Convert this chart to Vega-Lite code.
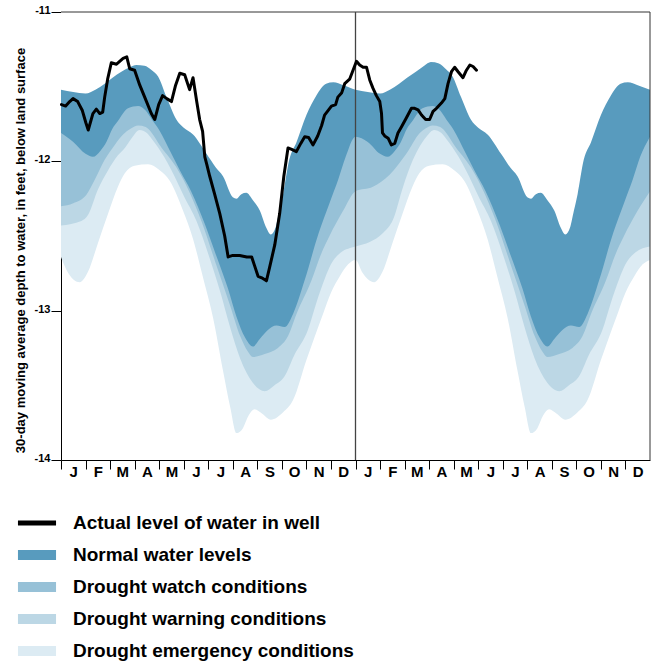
{
  "$schema": "https://vega.github.io/schema/vega-lite/v6.json",
  "width": 589,
  "height": 448,
  "autosize": {"type": "none"},
  "padding": {"left": 61, "top": 12, "right": 1, "bottom": 202},
  "background": "white",
  "config": {
    "view": {"stroke": null},
    "font": "Liberation Sans",
    "axis": {
      "labelFont": "Liberation Sans",
      "labelFontWeight": "bold",
      "labelColor": "black",
      "titleFont": "Liberation Sans",
      "titleFontWeight": "bold",
      "titleColor": "black",
      "domainColor": "black",
      "domainWidth": 1,
      "tickColor": "black",
      "tickWidth": 1,
      "grid": false,
      "zindex": 1
    }
  },
  "datasets": {
    "bands": [
      {"edge": "emergency_lower", "m": 0, "v": -12.64},
      {"edge": "emergency_lower", "m": 0.3, "v": -12.75},
      {"edge": "emergency_lower", "m": 0.76, "v": -12.81},
      {"edge": "emergency_lower", "m": 1.1, "v": -12.74},
      {"edge": "emergency_lower", "m": 1.5, "v": -12.55},
      {"edge": "emergency_lower", "m": 1.92, "v": -12.35},
      {"edge": "emergency_lower", "m": 2.32, "v": -12.17},
      {"edge": "emergency_lower", "m": 2.6, "v": -12.08},
      {"edge": "emergency_lower", "m": 3.0, "v": -12.03},
      {"edge": "emergency_lower", "m": 3.55, "v": -12.02},
      {"edge": "emergency_lower", "m": 4.02, "v": -12.06},
      {"edge": "emergency_lower", "m": 4.43, "v": -12.13},
      {"edge": "emergency_lower", "m": 4.97, "v": -12.33},
      {"edge": "emergency_lower", "m": 5.38, "v": -12.52},
      {"edge": "emergency_lower", "m": 5.79, "v": -12.78},
      {"edge": "emergency_lower", "m": 6.2, "v": -13.05},
      {"edge": "emergency_lower", "m": 6.6, "v": -13.4},
      {"edge": "emergency_lower", "m": 6.9, "v": -13.65},
      {"edge": "emergency_lower", "m": 7.15, "v": -13.82},
      {"edge": "emergency_lower", "m": 7.4, "v": -13.79},
      {"edge": "emergency_lower", "m": 7.65, "v": -13.7},
      {"edge": "emergency_lower", "m": 7.89, "v": -13.66},
      {"edge": "emergency_lower", "m": 8.2, "v": -13.69},
      {"edge": "emergency_lower", "m": 8.55, "v": -13.73},
      {"edge": "emergency_lower", "m": 9.05, "v": -13.68},
      {"edge": "emergency_lower", "m": 9.45, "v": -13.6},
      {"edge": "emergency_lower", "m": 10.0, "v": -13.33},
      {"edge": "emergency_lower", "m": 10.68, "v": -13.02},
      {"edge": "emergency_lower", "m": 11.0, "v": -12.88},
      {"edge": "emergency_lower", "m": 11.36, "v": -12.77},
      {"edge": "emergency_lower", "m": 11.7, "v": -12.69},
      {"edge": "emergency_lower", "m": 12.0, "v": -12.66},
      {"edge": "emergency_lower", "m": 12.3, "v": -12.75},
      {"edge": "emergency_lower", "m": 12.76, "v": -12.81},
      {"edge": "emergency_lower", "m": 13.1, "v": -12.74},
      {"edge": "emergency_lower", "m": 13.5, "v": -12.55},
      {"edge": "emergency_lower", "m": 13.92, "v": -12.35},
      {"edge": "emergency_lower", "m": 14.32, "v": -12.17},
      {"edge": "emergency_lower", "m": 14.6, "v": -12.08},
      {"edge": "emergency_lower", "m": 15.0, "v": -12.03},
      {"edge": "emergency_lower", "m": 15.55, "v": -12.02},
      {"edge": "emergency_lower", "m": 16.02, "v": -12.06},
      {"edge": "emergency_lower", "m": 16.43, "v": -12.13},
      {"edge": "emergency_lower", "m": 16.97, "v": -12.33},
      {"edge": "emergency_lower", "m": 17.38, "v": -12.52},
      {"edge": "emergency_lower", "m": 17.79, "v": -12.78},
      {"edge": "emergency_lower", "m": 18.2, "v": -13.05},
      {"edge": "emergency_lower", "m": 18.6, "v": -13.4},
      {"edge": "emergency_lower", "m": 18.9, "v": -13.65},
      {"edge": "emergency_lower", "m": 19.15, "v": -13.82},
      {"edge": "emergency_lower", "m": 19.4, "v": -13.79},
      {"edge": "emergency_lower", "m": 19.65, "v": -13.7},
      {"edge": "emergency_lower", "m": 19.89, "v": -13.66},
      {"edge": "emergency_lower", "m": 20.2, "v": -13.69},
      {"edge": "emergency_lower", "m": 20.55, "v": -13.73},
      {"edge": "emergency_lower", "m": 21.05, "v": -13.68},
      {"edge": "emergency_lower", "m": 21.45, "v": -13.6},
      {"edge": "emergency_lower", "m": 22.0, "v": -13.33},
      {"edge": "emergency_lower", "m": 22.68, "v": -13.02},
      {"edge": "emergency_lower", "m": 23.0, "v": -12.88},
      {"edge": "emergency_lower", "m": 23.36, "v": -12.77},
      {"edge": "emergency_lower", "m": 23.7, "v": -12.69},
      {"edge": "emergency_lower", "m": 24.0, "v": -12.66},

      {"edge": "warning_lower", "m": 0, "v": -12.43},
      {"edge": "warning_lower", "m": 0.83, "v": -12.4},
      {"edge": "warning_lower", "m": 1.1, "v": -12.36},
      {"edge": "warning_lower", "m": 1.5, "v": -12.19},
      {"edge": "warning_lower", "m": 1.92, "v": -12.06},
      {"edge": "warning_lower", "m": 2.32, "v": -11.96},
      {"edge": "warning_lower", "m": 2.6, "v": -11.91},
      {"edge": "warning_lower", "m": 2.9, "v": -11.84},
      {"edge": "warning_lower", "m": 3.2, "v": -11.79},
      {"edge": "warning_lower", "m": 3.5, "v": -11.81},
      {"edge": "warning_lower", "m": 3.7, "v": -11.85},
      {"edge": "warning_lower", "m": 4.2, "v": -11.97},
      {"edge": "warning_lower", "m": 4.5, "v": -12.06},
      {"edge": "warning_lower", "m": 5.0, "v": -12.23},
      {"edge": "warning_lower", "m": 5.52, "v": -12.4},
      {"edge": "warning_lower", "m": 6.0, "v": -12.62},
      {"edge": "warning_lower", "m": 6.5, "v": -12.88},
      {"edge": "warning_lower", "m": 6.87, "v": -13.1},
      {"edge": "warning_lower", "m": 7.3, "v": -13.32},
      {"edge": "warning_lower", "m": 7.8, "v": -13.48},
      {"edge": "warning_lower", "m": 8.3, "v": -13.54},
      {"edge": "warning_lower", "m": 8.7, "v": -13.5},
      {"edge": "warning_lower", "m": 9.11, "v": -13.44},
      {"edge": "warning_lower", "m": 9.5, "v": -13.3},
      {"edge": "warning_lower", "m": 10.06, "v": -13.13},
      {"edge": "warning_lower", "m": 10.4, "v": -12.95},
      {"edge": "warning_lower", "m": 10.74, "v": -12.79},
      {"edge": "warning_lower", "m": 11.0, "v": -12.69},
      {"edge": "warning_lower", "m": 11.4, "v": -12.61},
      {"edge": "warning_lower", "m": 12.0, "v": -12.57},
      {"edge": "warning_lower", "m": 12.58, "v": -12.54},
      {"edge": "warning_lower", "m": 13.12, "v": -12.48},
      {"edge": "warning_lower", "m": 13.53, "v": -12.39},
      {"edge": "warning_lower", "m": 13.94, "v": -12.17},
      {"edge": "warning_lower", "m": 14.34, "v": -11.99},
      {"edge": "warning_lower", "m": 14.89, "v": -11.835},
      {"edge": "warning_lower", "m": 15.2, "v": -11.79},
      {"edge": "warning_lower", "m": 15.5, "v": -11.81},
      {"edge": "warning_lower", "m": 15.7, "v": -11.85},
      {"edge": "warning_lower", "m": 16.2, "v": -11.97},
      {"edge": "warning_lower", "m": 16.5, "v": -12.06},
      {"edge": "warning_lower", "m": 17.0, "v": -12.23},
      {"edge": "warning_lower", "m": 17.52, "v": -12.4},
      {"edge": "warning_lower", "m": 18.0, "v": -12.62},
      {"edge": "warning_lower", "m": 18.5, "v": -12.88},
      {"edge": "warning_lower", "m": 18.87, "v": -13.1},
      {"edge": "warning_lower", "m": 19.3, "v": -13.32},
      {"edge": "warning_lower", "m": 19.8, "v": -13.48},
      {"edge": "warning_lower", "m": 20.3, "v": -13.54},
      {"edge": "warning_lower", "m": 20.7, "v": -13.5},
      {"edge": "warning_lower", "m": 21.11, "v": -13.44},
      {"edge": "warning_lower", "m": 21.5, "v": -13.3},
      {"edge": "warning_lower", "m": 22.06, "v": -13.13},
      {"edge": "warning_lower", "m": 22.4, "v": -12.95},
      {"edge": "warning_lower", "m": 22.74, "v": -12.79},
      {"edge": "warning_lower", "m": 23.0, "v": -12.69},
      {"edge": "warning_lower", "m": 23.4, "v": -12.61},
      {"edge": "warning_lower", "m": 24.0, "v": -12.57},

      {"edge": "watch_lower", "m": 0, "v": -12.3},
      {"edge": "watch_lower", "m": 0.5, "v": -12.28},
      {"edge": "watch_lower", "m": 1.03, "v": -12.225},
      {"edge": "watch_lower", "m": 1.37, "v": -12.125},
      {"edge": "watch_lower", "m": 1.78, "v": -11.99},
      {"edge": "watch_lower", "m": 2.19, "v": -11.89},
      {"edge": "watch_lower", "m": 2.53, "v": -11.82},
      {"edge": "watch_lower", "m": 2.85, "v": -11.78},
      {"edge": "watch_lower", "m": 3.14, "v": -11.76},
      {"edge": "watch_lower", "m": 3.45, "v": -11.77},
      {"edge": "watch_lower", "m": 3.7, "v": -11.81},
      {"edge": "watch_lower", "m": 4.02, "v": -11.89},
      {"edge": "watch_lower", "m": 4.7, "v": -12.04},
      {"edge": "watch_lower", "m": 5.1, "v": -12.16},
      {"edge": "watch_lower", "m": 5.72, "v": -12.4},
      {"edge": "watch_lower", "m": 6.3, "v": -12.68},
      {"edge": "watch_lower", "m": 6.9, "v": -12.97},
      {"edge": "watch_lower", "m": 7.3, "v": -13.17},
      {"edge": "watch_lower", "m": 7.6, "v": -13.27},
      {"edge": "watch_lower", "m": 7.82, "v": -13.31},
      {"edge": "watch_lower", "m": 8.3, "v": -13.29},
      {"edge": "watch_lower", "m": 8.84, "v": -13.25},
      {"edge": "watch_lower", "m": 9.25, "v": -13.17},
      {"edge": "watch_lower", "m": 9.6, "v": -13.02},
      {"edge": "watch_lower", "m": 10.2, "v": -12.8},
      {"edge": "watch_lower", "m": 10.6, "v": -12.62},
      {"edge": "watch_lower", "m": 10.94, "v": -12.5},
      {"edge": "watch_lower", "m": 11.5, "v": -12.33},
      {"edge": "watch_lower", "m": 12.0, "v": -12.2},
      {"edge": "watch_lower", "m": 12.71, "v": -12.17},
      {"edge": "watch_lower", "m": 13.39, "v": -12.09},
      {"edge": "watch_lower", "m": 14.07, "v": -11.95},
      {"edge": "watch_lower", "m": 14.62, "v": -11.81},
      {"edge": "watch_lower", "m": 14.85, "v": -11.78},
      {"edge": "watch_lower", "m": 15.14, "v": -11.76},
      {"edge": "watch_lower", "m": 15.45, "v": -11.77},
      {"edge": "watch_lower", "m": 15.7, "v": -11.81},
      {"edge": "watch_lower", "m": 16.02, "v": -11.89},
      {"edge": "watch_lower", "m": 16.7, "v": -12.04},
      {"edge": "watch_lower", "m": 17.1, "v": -12.16},
      {"edge": "watch_lower", "m": 17.72, "v": -12.4},
      {"edge": "watch_lower", "m": 18.3, "v": -12.68},
      {"edge": "watch_lower", "m": 18.9, "v": -12.97},
      {"edge": "watch_lower", "m": 19.3, "v": -13.17},
      {"edge": "watch_lower", "m": 19.6, "v": -13.27},
      {"edge": "watch_lower", "m": 19.82, "v": -13.31},
      {"edge": "watch_lower", "m": 20.3, "v": -13.29},
      {"edge": "watch_lower", "m": 20.84, "v": -13.25},
      {"edge": "watch_lower", "m": 21.25, "v": -13.17},
      {"edge": "watch_lower", "m": 21.6, "v": -13.02},
      {"edge": "watch_lower", "m": 22.2, "v": -12.8},
      {"edge": "watch_lower", "m": 22.6, "v": -12.62},
      {"edge": "watch_lower", "m": 22.94, "v": -12.5},
      {"edge": "watch_lower", "m": 23.5, "v": -12.33},
      {"edge": "watch_lower", "m": 24.0, "v": -12.2},

      {"edge": "normal_lower", "m": 0, "v": -11.81},
      {"edge": "normal_lower", "m": 0.5, "v": -11.87},
      {"edge": "normal_lower", "m": 1.0, "v": -11.95},
      {"edge": "normal_lower", "m": 1.3, "v": -11.97},
      {"edge": "normal_lower", "m": 1.6, "v": -11.93},
      {"edge": "normal_lower", "m": 1.85, "v": -11.87},
      {"edge": "normal_lower", "m": 2.1, "v": -11.78},
      {"edge": "normal_lower", "m": 2.32, "v": -11.73},
      {"edge": "normal_lower", "m": 2.73, "v": -11.645},
      {"edge": "normal_lower", "m": 3.14, "v": -11.63},
      {"edge": "normal_lower", "m": 3.45, "v": -11.66},
      {"edge": "normal_lower", "m": 3.7, "v": -11.72},
      {"edge": "normal_lower", "m": 4.0, "v": -11.79},
      {"edge": "normal_lower", "m": 4.23, "v": -11.86},
      {"edge": "normal_lower", "m": 4.5, "v": -11.95},
      {"edge": "normal_lower", "m": 4.84, "v": -12.06},
      {"edge": "normal_lower", "m": 5.3, "v": -12.2},
      {"edge": "normal_lower", "m": 5.86, "v": -12.42},
      {"edge": "normal_lower", "m": 6.3, "v": -12.62},
      {"edge": "normal_lower", "m": 6.8, "v": -12.85},
      {"edge": "normal_lower", "m": 7.15, "v": -13.04},
      {"edge": "normal_lower", "m": 7.5, "v": -13.18},
      {"edge": "normal_lower", "m": 7.82, "v": -13.24},
      {"edge": "normal_lower", "m": 8.1, "v": -13.19},
      {"edge": "normal_lower", "m": 8.43, "v": -13.13},
      {"edge": "normal_lower", "m": 8.78, "v": -13.1},
      {"edge": "normal_lower", "m": 9.11, "v": -13.11},
      {"edge": "normal_lower", "m": 9.46, "v": -13.02},
      {"edge": "normal_lower", "m": 9.93, "v": -12.795},
      {"edge": "normal_lower", "m": 10.5, "v": -12.48},
      {"edge": "normal_lower", "m": 10.94, "v": -12.28},
      {"edge": "normal_lower", "m": 11.3, "v": -12.12},
      {"edge": "normal_lower", "m": 11.6, "v": -11.97},
      {"edge": "normal_lower", "m": 12.0, "v": -11.835},
      {"edge": "normal_lower", "m": 12.5, "v": -11.87},
      {"edge": "normal_lower", "m": 13.0, "v": -11.95},
      {"edge": "normal_lower", "m": 13.3, "v": -11.97},
      {"edge": "normal_lower", "m": 13.6, "v": -11.93},
      {"edge": "normal_lower", "m": 13.85, "v": -11.87},
      {"edge": "normal_lower", "m": 14.1, "v": -11.78},
      {"edge": "normal_lower", "m": 14.32, "v": -11.73},
      {"edge": "normal_lower", "m": 14.73, "v": -11.645},
      {"edge": "normal_lower", "m": 15.14, "v": -11.63},
      {"edge": "normal_lower", "m": 15.45, "v": -11.66},
      {"edge": "normal_lower", "m": 15.7, "v": -11.72},
      {"edge": "normal_lower", "m": 16.0, "v": -11.79},
      {"edge": "normal_lower", "m": 16.23, "v": -11.86},
      {"edge": "normal_lower", "m": 16.5, "v": -11.95},
      {"edge": "normal_lower", "m": 16.84, "v": -12.06},
      {"edge": "normal_lower", "m": 17.3, "v": -12.2},
      {"edge": "normal_lower", "m": 17.86, "v": -12.42},
      {"edge": "normal_lower", "m": 18.3, "v": -12.62},
      {"edge": "normal_lower", "m": 18.8, "v": -12.85},
      {"edge": "normal_lower", "m": 19.15, "v": -13.04},
      {"edge": "normal_lower", "m": 19.5, "v": -13.18},
      {"edge": "normal_lower", "m": 19.82, "v": -13.24},
      {"edge": "normal_lower", "m": 20.1, "v": -13.19},
      {"edge": "normal_lower", "m": 20.43, "v": -13.13},
      {"edge": "normal_lower", "m": 20.78, "v": -13.1},
      {"edge": "normal_lower", "m": 21.11, "v": -13.11},
      {"edge": "normal_lower", "m": 21.46, "v": -13.02},
      {"edge": "normal_lower", "m": 21.93, "v": -12.795},
      {"edge": "normal_lower", "m": 22.5, "v": -12.48},
      {"edge": "normal_lower", "m": 22.94, "v": -12.28},
      {"edge": "normal_lower", "m": 23.3, "v": -12.12},
      {"edge": "normal_lower", "m": 23.6, "v": -11.97},
      {"edge": "normal_lower", "m": 24.0, "v": -11.835},

      {"edge": "normal_upper", "m": 0, "v": -11.52},
      {"edge": "normal_upper", "m": 0.5, "v": -11.535},
      {"edge": "normal_upper", "m": 1.0, "v": -11.545},
      {"edge": "normal_upper", "m": 1.4, "v": -11.52},
      {"edge": "normal_upper", "m": 1.78, "v": -11.48},
      {"edge": "normal_upper", "m": 2.1, "v": -11.44},
      {"edge": "normal_upper", "m": 2.46, "v": -11.4},
      {"edge": "normal_upper", "m": 2.8, "v": -11.37},
      {"edge": "normal_upper", "m": 3.07, "v": -11.355},
      {"edge": "normal_upper", "m": 3.4, "v": -11.36},
      {"edge": "normal_upper", "m": 3.7, "v": -11.39},
      {"edge": "normal_upper", "m": 3.95, "v": -11.43},
      {"edge": "normal_upper", "m": 4.3, "v": -11.57},
      {"edge": "normal_upper", "m": 4.7, "v": -11.72},
      {"edge": "normal_upper", "m": 5.0, "v": -11.775},
      {"edge": "normal_upper", "m": 5.38, "v": -11.82},
      {"edge": "normal_upper", "m": 5.93, "v": -11.95},
      {"edge": "normal_upper", "m": 6.3, "v": -12.04},
      {"edge": "normal_upper", "m": 6.6, "v": -12.1},
      {"edge": "normal_upper", "m": 7.0, "v": -12.24},
      {"edge": "normal_upper", "m": 7.15, "v": -12.25},
      {"edge": "normal_upper", "m": 7.35, "v": -12.22},
      {"edge": "normal_upper", "m": 7.55, "v": -12.21},
      {"edge": "normal_upper", "m": 7.82, "v": -12.26},
      {"edge": "normal_upper", "m": 8.1, "v": -12.33},
      {"edge": "normal_upper", "m": 8.35, "v": -12.44},
      {"edge": "normal_upper", "m": 8.55, "v": -12.49},
      {"edge": "normal_upper", "m": 8.75, "v": -12.44},
      {"edge": "normal_upper", "m": 8.9, "v": -12.33},
      {"edge": "normal_upper", "m": 9.05, "v": -12.22},
      {"edge": "normal_upper", "m": 9.3, "v": -11.99},
      {"edge": "normal_upper", "m": 9.6, "v": -11.87},
      {"edge": "normal_upper", "m": 10.0, "v": -11.69},
      {"edge": "normal_upper", "m": 10.4, "v": -11.56},
      {"edge": "normal_upper", "m": 10.8, "v": -11.48},
      {"edge": "normal_upper", "m": 11.1, "v": -11.47},
      {"edge": "normal_upper", "m": 11.5, "v": -11.49},
      {"edge": "normal_upper", "m": 12.0, "v": -11.52},
      {"edge": "normal_upper", "m": 12.5, "v": -11.535},
      {"edge": "normal_upper", "m": 13.0, "v": -11.545},
      {"edge": "normal_upper", "m": 13.4, "v": -11.52},
      {"edge": "normal_upper", "m": 13.78, "v": -11.48},
      {"edge": "normal_upper", "m": 14.1, "v": -11.44},
      {"edge": "normal_upper", "m": 14.46, "v": -11.4},
      {"edge": "normal_upper", "m": 14.8, "v": -11.36},
      {"edge": "normal_upper", "m": 15.07, "v": -11.335},
      {"edge": "normal_upper", "m": 15.4, "v": -11.345},
      {"edge": "normal_upper", "m": 15.7, "v": -11.385},
      {"edge": "normal_upper", "m": 15.95, "v": -11.43},
      {"edge": "normal_upper", "m": 16.3, "v": -11.57},
      {"edge": "normal_upper", "m": 16.7, "v": -11.72},
      {"edge": "normal_upper", "m": 17.0, "v": -11.775},
      {"edge": "normal_upper", "m": 17.38, "v": -11.82},
      {"edge": "normal_upper", "m": 17.93, "v": -11.95},
      {"edge": "normal_upper", "m": 18.3, "v": -12.04},
      {"edge": "normal_upper", "m": 18.6, "v": -12.1},
      {"edge": "normal_upper", "m": 19.0, "v": -12.24},
      {"edge": "normal_upper", "m": 19.15, "v": -12.25},
      {"edge": "normal_upper", "m": 19.35, "v": -12.22},
      {"edge": "normal_upper", "m": 19.55, "v": -12.21},
      {"edge": "normal_upper", "m": 19.82, "v": -12.26},
      {"edge": "normal_upper", "m": 20.1, "v": -12.33},
      {"edge": "normal_upper", "m": 20.35, "v": -12.44},
      {"edge": "normal_upper", "m": 20.55, "v": -12.49},
      {"edge": "normal_upper", "m": 20.75, "v": -12.44},
      {"edge": "normal_upper", "m": 20.9, "v": -12.33},
      {"edge": "normal_upper", "m": 21.05, "v": -12.22},
      {"edge": "normal_upper", "m": 21.3, "v": -11.99},
      {"edge": "normal_upper", "m": 21.6, "v": -11.87},
      {"edge": "normal_upper", "m": 22.0, "v": -11.69},
      {"edge": "normal_upper", "m": 22.4, "v": -11.56},
      {"edge": "normal_upper", "m": 22.8, "v": -11.48},
      {"edge": "normal_upper", "m": 23.1, "v": -11.47},
      {"edge": "normal_upper", "m": 23.5, "v": -11.49},
      {"edge": "normal_upper", "m": 24.0, "v": -11.52}
    ],
    "level": [
      {"m": 0.02, "v": -11.62}, {"m": 0.19, "v": -11.63}, {"m": 0.355, "v": -11.6},
      {"m": 0.49, "v": -11.58}, {"m": 0.68, "v": -11.6}, {"m": 0.87, "v": -11.66},
      {"m": 1.01, "v": -11.74}, {"m": 1.11, "v": -11.79}, {"m": 1.3, "v": -11.68},
      {"m": 1.44, "v": -11.65}, {"m": 1.58, "v": -11.68}, {"m": 1.7, "v": -11.67},
      {"m": 1.78, "v": -11.57}, {"m": 1.9, "v": -11.45}, {"m": 2.05, "v": -11.34},
      {"m": 2.26, "v": -11.35}, {"m": 2.39, "v": -11.33}, {"m": 2.53, "v": -11.31},
      {"m": 2.68, "v": -11.3}, {"m": 2.8, "v": -11.38}, {"m": 3.0, "v": -11.39},
      {"m": 3.21, "v": -11.49}, {"m": 3.41, "v": -11.57}, {"m": 3.68, "v": -11.68},
      {"m": 3.82, "v": -11.72}, {"m": 3.98, "v": -11.62}, {"m": 4.14, "v": -11.56},
      {"m": 4.31, "v": -11.58}, {"m": 4.5, "v": -11.6}, {"m": 4.67, "v": -11.49},
      {"m": 4.84, "v": -11.41}, {"m": 5.04, "v": -11.42}, {"m": 5.24, "v": -11.52},
      {"m": 5.38, "v": -11.44}, {"m": 5.53, "v": -11.6}, {"m": 5.65, "v": -11.72},
      {"m": 5.77, "v": -11.8}, {"m": 5.86, "v": -11.97}, {"m": 5.94, "v": -12.02},
      {"m": 6.06, "v": -12.1}, {"m": 6.26, "v": -12.22}, {"m": 6.47, "v": -12.35},
      {"m": 6.67, "v": -12.5}, {"m": 6.81, "v": -12.64}, {"m": 7.0, "v": -12.63},
      {"m": 7.28, "v": -12.63}, {"m": 7.57, "v": -12.64}, {"m": 7.77, "v": -12.64},
      {"m": 7.89, "v": -12.7}, {"m": 8.03, "v": -12.77}, {"m": 8.18, "v": -12.78},
      {"m": 8.37, "v": -12.8}, {"m": 8.5, "v": -12.71}, {"m": 8.71, "v": -12.56},
      {"m": 8.91, "v": -12.35}, {"m": 9.08, "v": -12.1}, {"m": 9.25, "v": -11.91},
      {"m": 9.4, "v": -11.92}, {"m": 9.59, "v": -11.935}, {"m": 9.77, "v": -11.88},
      {"m": 9.93, "v": -11.835}, {"m": 10.09, "v": -11.84}, {"m": 10.27, "v": -11.89},
      {"m": 10.46, "v": -11.83}, {"m": 10.62, "v": -11.76}, {"m": 10.74, "v": -11.69},
      {"m": 11.02, "v": -11.63}, {"m": 11.19, "v": -11.62}, {"m": 11.28, "v": -11.57},
      {"m": 11.44, "v": -11.54}, {"m": 11.56, "v": -11.48}, {"m": 11.76, "v": -11.45},
      {"m": 11.9, "v": -11.39}, {"m": 12.04, "v": -11.33}, {"m": 12.17, "v": -11.355},
      {"m": 12.31, "v": -11.37}, {"m": 12.45, "v": -11.37}, {"m": 12.58, "v": -11.455},
      {"m": 12.71, "v": -11.51}, {"m": 12.85, "v": -11.56}, {"m": 12.99, "v": -11.6},
      {"m": 13.06, "v": -11.68}, {"m": 13.1, "v": -11.81}, {"m": 13.19, "v": -11.83},
      {"m": 13.33, "v": -11.845}, {"m": 13.46, "v": -11.89}, {"m": 13.6, "v": -11.88},
      {"m": 13.73, "v": -11.81}, {"m": 13.87, "v": -11.77}, {"m": 14.07, "v": -11.71},
      {"m": 14.28, "v": -11.645}, {"m": 14.41, "v": -11.645}, {"m": 14.55, "v": -11.655},
      {"m": 14.69, "v": -11.69}, {"m": 14.86, "v": -11.72}, {"m": 15.02, "v": -11.72},
      {"m": 15.16, "v": -11.665}, {"m": 15.3, "v": -11.645}, {"m": 15.5, "v": -11.61},
      {"m": 15.64, "v": -11.58}, {"m": 15.77, "v": -11.48}, {"m": 15.91, "v": -11.4},
      {"m": 16.04, "v": -11.37}, {"m": 16.18, "v": -11.4}, {"m": 16.38, "v": -11.44},
      {"m": 16.52, "v": -11.39}, {"m": 16.66, "v": -11.355}, {"m": 16.79, "v": -11.365},
      {"m": 16.93, "v": -11.39}
    ],
    "key": [
      {"series": "Actual level of water in well"},
      {"series": "Normal water levels"},
      {"series": "Drought watch conditions"},
      {"series": "Drought warning conditions"},
      {"series": "Drought emergency conditions"}
    ]
  },
  "resolve": {"axis": {"x": "independent", "y": "independent"}},
  "layer": [
    {
      "data": {"name": "bands"},
      "transform": [{"filter": "datum.edge === 'emergency_lower'"}],
      "mark": {"type": "area", "interpolate": "monotone", "color": "#dcebf3"},
      "encoding": {
        "x": {
          "field": "m", "type": "quantitative",
          "scale": {"domain": [0, 24], "nice": false, "zero": false},
          "axis": {
            "orient": "bottom",
            "title": null,
            "values": [0.5, 1.5, 2.5, 3.5, 4.5, 5.5, 6.5, 7.5, 8.5, 9.5, 10.5, 11.5, 12.5, 13.5, 14.5, 15.5, 16.5, 17.5, 18.5, 19.5, 20.5, 21.5, 22.5, 23.5],
            "labelExpr": "['J','F','M','A','M','J','J','A','S','O','N','D'][floor(datum.value) % 12]",
            "tickOffset": -12.27,
            "labelOffset": 12.27,
            "tickSize": 9,
            "labelPadding": -5,
            "labelFontSize": 15,
            "labelAngle": 0,
            "labelFlush": false,
            "labelOverlap": false
          }
        },
        "y": {
          "field": "v", "type": "quantitative",
          "scale": {"domain": [-14, -11], "nice": false, "zero": false},
          "axis": {
            "orient": "left",
            "values": [-14, -13, -12, -11],
            "labelExpr": "'-' + abs(datum.value)",
            "tickSize": 10,
            "labelPadding": 1,
            "labelFontSize": 11,
            "labelOffset": -1.5,
            "labelFlush": false,
            "labelOverlap": false,
            "title": "30-day moving average depth to water, in feet, below land surface",
            "titleFontSize": 13,
            "titleX": -41,
            "titleY": 238,
            "titleAngle": -90,
            "titleAlign": "center",
            "titleBaseline": "middle"
          }
        },
        "y2": {"datum": -11}
      }
    },
    {
      "data": {"name": "bands"},
      "transform": [{"filter": "datum.edge === 'warning_lower'"}],
      "mark": {"type": "area", "interpolate": "monotone", "color": "#bcd7e5"},
      "encoding": {
        "x": {"field": "m", "type": "quantitative", "axis": null},
        "y": {"field": "v", "type": "quantitative", "axis": null},
        "y2": {"datum": -11}
      }
    },
    {
      "data": {"name": "bands"},
      "transform": [{"filter": "datum.edge === 'watch_lower'"}],
      "mark": {"type": "area", "interpolate": "monotone", "color": "#97c1d7"},
      "encoding": {
        "x": {"field": "m", "type": "quantitative", "axis": null},
        "y": {"field": "v", "type": "quantitative", "axis": null},
        "y2": {"datum": -11}
      }
    },
    {
      "data": {"name": "bands"},
      "transform": [{"filter": "datum.edge === 'normal_lower'"}],
      "mark": {"type": "area", "interpolate": "monotone", "color": "#589bbe"},
      "encoding": {
        "x": {"field": "m", "type": "quantitative", "axis": null},
        "y": {"field": "v", "type": "quantitative", "axis": null},
        "y2": {"datum": -11}
      }
    },
    {
      "data": {"name": "bands"},
      "transform": [{"filter": "datum.edge === 'normal_upper'"}],
      "mark": {"type": "area", "interpolate": "monotone", "color": "white"},
      "encoding": {
        "x": {"field": "m", "type": "quantitative", "axis": null},
        "y": {"field": "v", "type": "quantitative", "axis": null},
        "y2": {"datum": -11}
      }
    },
    {
      "data": {"values": [{"v": -11}]},
      "mark": {"type": "rule", "color": "#333333", "strokeWidth": 1},
      "encoding": {"y": {"field": "v", "type": "quantitative", "axis": null}}
    },
    {
      "data": {"values": [{"m": 24}]},
      "mark": {"type": "rule", "color": "#333333", "strokeWidth": 1},
      "encoding": {"x": {"field": "m", "type": "quantitative", "axis": null}}
    },
    {
      "data": {"values": [{"m": 12}]},
      "mark": {"type": "rule", "color": "#444444", "strokeWidth": 1.3},
      "encoding": {"x": {"field": "m", "type": "quantitative", "axis": null}}
    },
    {
      "data": {"name": "level"},
      "mark": {"type": "line", "color": "black", "strokeWidth": 3, "strokeJoin": "round", "strokeCap": "round"},
      "encoding": {
        "x": {"field": "m", "type": "quantitative", "axis": null},
        "y": {"field": "v", "type": "quantitative", "axis": null}
      }
    },
    {
      "data": {"name": "key"},
      "mark": {"type": "point", "filled": true, "opacity": 0},
      "encoding": {
        "color": {
          "field": "series", "type": "nominal",
          "scale": {
            "domain": ["Actual level of water in well", "Normal water levels", "Drought watch conditions", "Drought warning conditions", "Drought emergency conditions"],
            "range": ["#000000", "#589bbe", "#97c1d7", "#bcd7e5", "#dcebf3"]
          },
          "legend": {
            "title": null, "orient": "none", "legendX": -40, "legendY": 495,
            "direction": "vertical", "padding": 0, "offset": 0,
            "symbolSize": 1024, "symbolStrokeWidth": 0, "symbolOpacity": 1,
            "labelFont": "Liberation Sans", "labelFontWeight": "bold", "labelFontSize": 19,
            "labelColor": "black", "labelOffset": 20, "labelLimit": 500,
            "labelBaseline": "middle", "rowPadding": 6
          }
        },
        "shape": {
          "field": "series", "type": "nominal",
          "scale": {
            "domain": ["Actual level of water in well", "Normal water levels", "Drought watch conditions", "Drought warning conditions", "Drought emergency conditions"],
            "range": ["M-1.19,-0.16H1.19V0.16H-1.19Z", "M-1.19,-0.32H1.19V0.32H-1.19Z", "M-1.19,-0.32H1.19V0.32H-1.19Z", "M-1.19,-0.32H1.19V0.32H-1.19Z", "M-1.19,-0.32H1.19V0.32H-1.19Z"]
          },
          "legend": {
            "title": null, "orient": "none", "legendX": -40, "legendY": 495,
            "direction": "vertical", "padding": 0, "offset": 0,
            "symbolSize": 1024, "symbolStrokeWidth": 0, "symbolOpacity": 1,
            "labelFont": "Liberation Sans", "labelFontWeight": "bold", "labelFontSize": 19,
            "labelColor": "black", "labelOffset": 20, "labelLimit": 500,
            "labelBaseline": "middle", "rowPadding": 6
          }
        }
      }
    }
  ]
}
